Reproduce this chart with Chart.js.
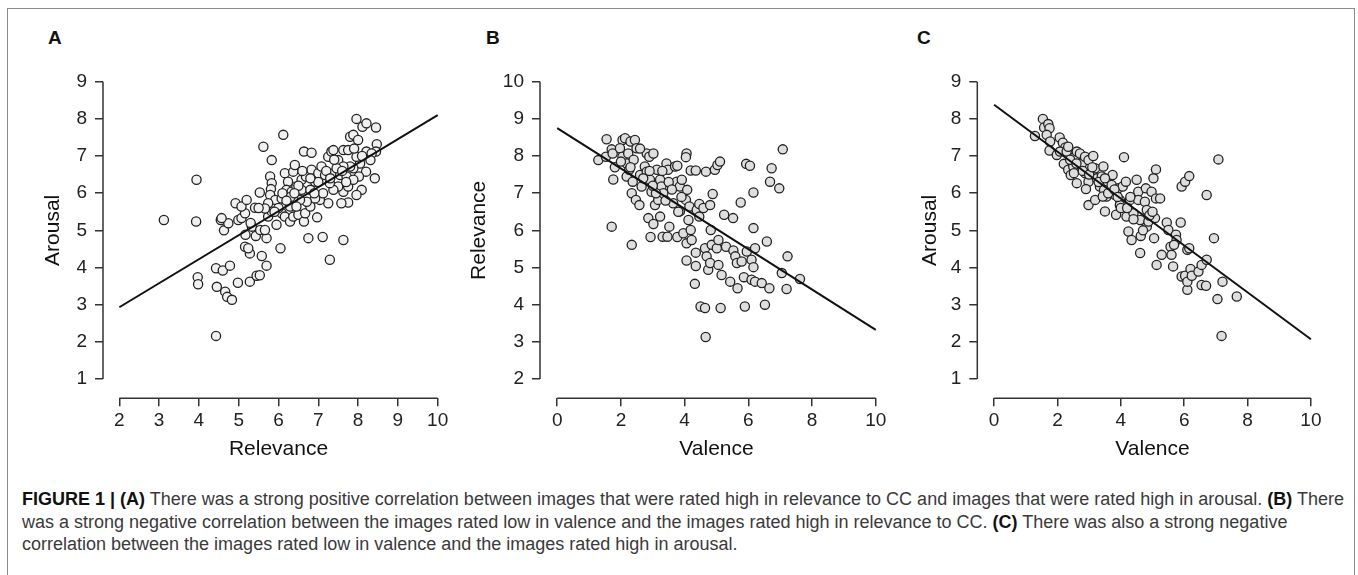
<!DOCTYPE html>
<html lang="en">
<head>
    <meta charset="UTF-8">
    <title>Figure 1</title>
    <script src="https://cdn.jsdelivr.net/npm/chart.js"></script>
    <style>
        body {
            margin: 0;
            background-color: #fff;
            font-family: 'Liberation Sans', Arial, sans-serif;
        }
        .frame {
            position: absolute;
            left: 7px;
            top: 8px;
            width: 1346px;
            height: 620px;
            border: 1.5px solid #8a8a8a;
        }
        canvas {
            position: absolute;
            top: 0;
        }
        .panel-letter {
            position: absolute;
            top: 28px;
            font-size: 19px;
            line-height: 19px;
            font-weight: bold;
            color: #111;
        }
        .caption {
            position: absolute;
            left: 22px;
            top: 488px;
            font-size: 18px;
            line-height: 22.5px;
            color: #3a3a3a;
            white-space: nowrap;
        }
        .caption b {
            color: #111;
        }
    </style>
</head>
<body>
    <div class="frame"></div>

    <div class="panel-letter" style="left:48px">A</div>
    <div class="panel-letter" style="left:486px">B</div>
    <div class="panel-letter" style="left:917px">C</div>

    <canvas id="chartA" width="460" height="480" style="left:0px"></canvas>
    <canvas id="chartB" width="440" height="480" style="left:460px"></canvas>
    <canvas id="chartC" width="458" height="480" style="left:900px"></canvas>

    <div class="caption">
        <b>FIGURE 1 | (A)</b> There was a strong positive correlation between images that were rated high in relevance to CC and images that were rated high in arousal. <b>(B)</b> There<br>
        was a strong negative correlation between the images rated low in valence and the images rated high in relevance to CC. <b>(C)</b> There was also a strong negative<br>
        correlation between the images rated low in valence and the images rated high in arousal.
    </div>

    <script>
        // Panel A: relevance vs arousal
        const aRelevance = [3.12, 3.94, 3.93, 3.97, 3.98, 4.43, 4.60, 4.78, 4.45, 4.66, 4.71, 4.83, 4.98, 5.28, 4.43,
            5.45, 5.53, 5.70, 5.16, 5.28, 5.58, 5.24, 6.05, 5.17, 5.43, 5.70, 5.33, 5.54, 5.66, 4.63,
            4.55, 4.74, 4.99, 5.07, 5.16, 4.92, 5.07, 5.20, 5.41, 5.53, 5.62, 5.83, 6.12, 5.74, 5.83,
            5.95, 6.08, 6.16, 6.29, 6.37, 6.50, 6.64, 6.75, 7.11, 7.63, 7.29, 6.97, 6.67, 6.80, 5.79,
            5.83, 5.81, 5.79, 5.92, 5.74, 5.66, 6.08, 6.16, 6.37, 6.41, 6.24, 6.20, 6.33, 6.45, 6.58,
            6.58, 6.69, 6.83, 6.64, 6.83, 6.92, 7.00, 7.08, 7.17, 7.25, 7.33, 7.38, 7.50, 7.63, 7.75,
            7.80, 7.88, 7.96, 8.11, 8.21, 8.45, 8.00, 8.47, 8.45, 8.42, 8.20, 8.05, 7.96, 7.88, 8.02,
            8.09, 7.96, 7.75, 7.58, 7.63, 7.75, 7.50, 7.38, 7.29, 7.25, 7.04, 7.12, 6.92, 6.71, 6.80,
            6.54, 6.37, 6.29, 6.45, 7.38, 7.55, 7.71, 7.80, 7.63, 7.46, 8.21, 8.34, 8.31, 7.88, 4.57,
            6.50, 6.90, 7.20, 7.00, 6.30, 6.00, 6.60, 6.10, 5.90, 6.40, 7.40, 7.70, 7.90, 8.10, 7.60,
            6.80, 7.30, 5.50, 5.30, 6.20];
        const aArousal = [5.28, 6.36, 5.24, 3.74, 3.55, 3.98, 3.92, 4.05, 3.48, 3.35, 3.21, 3.13, 3.59, 3.62, 2.16,
            3.78, 3.79, 4.05, 4.56, 4.38, 4.31, 4.52, 4.52, 4.88, 4.85, 4.79, 5.10, 5.01, 5.01, 5.00,
            5.28, 5.19, 5.28, 5.33, 5.46, 5.73, 5.64, 5.82, 5.61, 6.02, 7.25, 6.89, 7.57, 5.37, 5.51,
            5.15, 5.46, 5.37, 5.24, 5.37, 5.42, 5.24, 4.79, 4.82, 4.74, 4.21, 5.35, 5.46, 5.64, 6.45,
            6.27, 6.11, 5.95, 5.82, 5.73, 5.59, 5.86, 6.54, 6.58, 6.76, 6.31, 6.09, 6.04, 6.18, 6.09,
            6.36, 6.45, 6.63, 7.12, 7.09, 6.31, 6.54, 6.72, 6.49, 6.98, 7.12, 7.16, 6.89, 7.16, 7.16,
            7.52, 7.57, 8.00, 7.79, 7.88, 7.77, 7.43, 7.32, 7.12, 6.40, 6.58, 6.80, 6.98, 6.67, 6.45,
            6.09, 5.95, 5.75, 5.73, 6.04, 6.18, 6.18, 6.09, 6.27, 5.73, 5.82, 6.00, 5.86, 5.77, 6.09,
            5.82, 5.86, 5.64, 5.64, 6.54, 6.49, 6.45, 6.72, 6.72, 6.67, 7.12, 7.07, 6.89, 6.36, 5.33,
            6.20, 6.00, 6.60, 6.30, 5.90, 5.60, 6.60, 6.00, 5.50, 6.00, 6.90, 6.30, 7.20, 7.00, 6.60,
            6.40, 6.40, 5.60, 5.20, 5.80];
        const aLineX = [2, 10];
        const aLineY = [2.93, 8.10];
        const aXTicks = [2, 3, 4, 5, 6, 7, 8, 9, 10];
        const aYTicks = [1, 2, 3, 4, 5, 6, 7, 8, 9];

        // Panel B: valence vs relevance
        const bValence = [1.29, 1.55, 1.53, 1.71, 1.74, 1.81, 1.76, 1.71, 2.05, 2.13, 1.97, 2.05, 2.18, 2.23, 2.30,
            2.44, 2.49, 2.18, 2.26, 2.37, 2.34, 2.47, 2.58, 2.34, 2.60, 2.65, 2.75, 2.81, 2.89, 3.02,
            2.81, 2.91, 2.96, 3.07, 2.86, 3.02, 2.93, 3.13, 3.23, 3.27, 3.17, 3.23, 3.31, 3.46, 3.52,
            3.43, 3.48, 3.33, 3.54, 3.64, 3.70, 3.77, 3.75, 3.85, 3.91, 3.85, 3.77, 3.96, 4.06, 4.04,
            4.08, 4.04, 4.15, 4.12, 4.19, 4.06, 4.22, 4.19, 4.35, 4.38, 4.46, 4.59, 4.46, 4.35, 4.06,
            4.35, 4.32, 4.50, 4.64, 4.66, 4.67, 4.80, 4.82, 4.88, 4.64, 4.69, 4.74, 4.80, 4.85, 4.95,
            5.03, 5.11, 5.01, 5.06, 5.06, 5.16, 5.13, 5.24, 5.30, 5.43, 5.52, 5.53, 5.59, 5.64, 5.66,
            5.76, 5.79, 5.86, 5.89, 5.93, 6.05, 5.95, 6.10, 6.16, 6.10, 6.16, 6.16, 6.21, 6.21, 6.42,
            6.52, 6.58, 6.66, 6.68, 6.73, 6.97, 7.05, 7.08, 7.20, 7.23, 7.62,
            2.00, 2.40, 2.60, 2.30, 2.90, 3.30, 3.50, 3.60, 3.10, 3.40, 3.80, 3.90, 2.70, 3.00];
        const bRelevance = [7.89, 8.45, 7.98, 8.18, 8.07, 7.70, 7.37, 6.10, 8.43, 8.48, 8.21, 7.98, 7.80, 8.07, 8.39,
            8.43, 8.21, 7.45, 7.63, 7.31, 7.00, 6.82, 6.68, 5.61, 7.49, 7.18, 7.72, 8.07, 7.98, 8.07,
            7.58, 7.36, 7.04, 6.68, 6.33, 6.17, 5.82, 7.63, 7.36, 7.18, 6.82, 6.37, 5.83, 5.83, 6.10,
            7.80, 7.63, 7.00, 7.27, 6.73, 7.72, 7.74, 7.31, 7.18, 7.36, 6.51, 5.82, 5.92, 8.07, 7.97,
            7.09, 6.82, 6.64, 6.28, 6.01, 5.65, 5.74, 7.61, 7.61, 6.55, 6.71, 6.60, 6.37, 5.40, 5.19,
            5.04, 4.56, 3.95, 3.91, 3.13, 7.58, 6.68, 6.01, 6.98, 5.52, 5.30, 4.94, 5.12, 5.61, 7.63,
            7.76, 7.85, 5.52, 5.74, 5.07, 4.80, 3.91, 6.42, 5.56, 4.62, 6.33, 5.46, 5.30, 5.12, 4.44,
            6.75, 5.16, 4.74, 3.95, 7.79, 7.74, 5.43, 5.21, 5.01, 4.67, 7.02, 6.06, 5.52, 4.62, 4.58,
            4.00, 5.70, 4.44, 7.31, 7.67, 7.13, 4.85, 8.18, 4.42, 5.30, 4.69,
            7.85, 7.90, 8.20, 7.70, 7.60, 7.60, 7.30, 7.10, 7.00, 6.80, 6.50, 6.90, 7.40, 7.20];
        const bLineX = [0, 10];
        const bLineY = [8.75, 3.32];
        const bXTicks = [0, 2, 4, 6, 8, 10];
        const bYTicks = [2, 3, 4, 5, 6, 7, 8, 9, 10];

        // Panel C: valence vs arousal
        const cValence = [1.29, 1.54, 1.58, 1.71, 1.75, 1.66, 1.77, 1.75, 1.98, 2.07, 2.17, 2.25, 2.08, 2.29, 2.34,
            2.20, 2.34, 2.42, 2.50, 2.55, 2.61, 2.71, 2.52, 2.61, 2.77, 2.87, 2.98, 2.87, 2.98, 2.90,
            2.98, 3.13, 3.19, 3.24, 3.19, 3.34, 3.45, 3.40, 3.47, 3.50, 3.55, 3.43, 3.74, 3.71, 3.82,
            3.85, 3.92, 3.97, 3.97, 4.06, 4.10, 4.16, 4.18, 4.24, 4.34, 4.29, 4.40, 4.50, 4.55, 4.55,
            4.61, 4.63, 4.61, 4.76, 4.79, 4.82, 4.82, 4.87, 4.97, 5.03, 5.11, 5.05, 5.11, 4.97, 5.08,
            5.13, 5.24, 5.29, 5.45, 5.50, 5.57, 5.60, 5.65, 5.74, 5.76, 5.68, 5.89, 5.92, 6.03, 6.16,
            5.92, 6.03, 6.10, 6.10, 6.10, 6.16, 6.20, 6.24, 6.45, 6.55, 6.55, 6.69, 6.71, 6.71, 6.94,
            7.08, 7.05, 7.21, 7.18, 7.66,
            2.40, 2.80, 3.00, 3.30, 3.60, 3.80, 4.00, 4.20, 4.40, 4.70, 2.60, 3.10, 3.50, 3.90, 4.30,
            4.90, 5.00];
        const cArousal = [7.54, 8.00, 7.77, 7.86, 7.75, 7.57, 7.39, 7.15, 7.03, 7.50, 7.36, 7.23, 7.12, 7.12, 7.25,
            6.79, 6.63, 6.49, 6.72, 6.98, 7.12, 7.07, 6.54, 6.27, 6.80, 6.98, 6.89, 6.54, 6.31, 6.11,
            5.68, 7.00, 6.67, 6.40, 5.82, 6.18, 6.72, 6.45, 6.09, 5.51, 5.91, 5.91, 6.49, 6.22, 5.95,
            5.42, 6.13, 5.82, 5.68, 6.18, 6.97, 6.31, 5.37, 4.97, 4.74, 5.82, 5.46, 6.36, 6.04, 5.82,
            5.28, 4.85, 4.39, 5.77, 6.13, 5.55, 5.10, 5.24, 6.04, 6.40, 6.64, 4.79, 5.86, 5.46, 5.33,
            4.07, 5.86, 4.34, 5.21, 5.01, 4.56, 4.34, 4.03, 4.88, 4.74, 4.61, 5.21, 6.18, 6.31, 6.46,
            3.76, 3.78, 3.40, 3.62, 4.48, 4.52, 3.96, 3.78, 3.89, 3.53, 4.07, 3.51, 5.95, 4.21, 4.79,
            6.91, 3.15, 3.62, 2.16, 3.22,
            6.90, 6.60, 6.50, 6.30, 6.00, 6.10, 5.60, 5.60, 5.30, 5.00, 6.80, 6.70, 6.40, 5.90, 5.90,
            5.40, 5.50];
        const cLineX = [0, 10];
        const cLineY = [8.38, 2.07];
        const cXTicks = [0, 2, 4, 6, 8, 10];
        const cYTicks = [1, 2, 3, 4, 5, 6, 7, 8, 9];

        Chart.defaults.font.family = "'Liberation Sans', Arial, sans-serif";

        // R style axis: line only between first and last tick
        const axisLines = {
            id: 'axisLines',
            afterDraw(chart) {
                const { ctx, chartArea, scales } = chart;
                const x = scales.x, y = scales.y;
                ctx.save();
                ctx.strokeStyle = '#333';
                ctx.lineWidth = 1.5;
                ctx.beginPath();
                ctx.moveTo(x.getPixelForValue(x.ticks[0].value), chartArea.bottom);
                ctx.lineTo(x.getPixelForValue(x.ticks[x.ticks.length - 1].value), chartArea.bottom);
                ctx.moveTo(chartArea.left, y.getPixelForValue(y.ticks[0].value));
                ctx.lineTo(chartArea.left, y.getPixelForValue(y.ticks[y.ticks.length - 1].value));
                ctx.stroke();
                ctx.restore();
            }
        };

        function zip(xs, ys) {
            return xs.map((v, i) => ({ x: v, y: ys[i] }));
        }

        function makePanel(id, p) {
            const axisStyle = (ticks, min, max, title, titlePad) => ({
                type: 'linear',
                min: min,
                max: max,
                afterBuildTicks: s => { s.ticks = ticks.map(v => ({ value: v })); },
                grid: { drawOnChartArea: false, drawTicks: true, tickLength: 8, color: '#333', lineWidth: 1.5 },
                border: { display: false },
                title: { display: true, text: title, color: '#111', font: { size: 21 }, padding: titlePad }
            });

            const xAxis = axisStyle(p.xTicks, p.xMin, p.xMax, p.xTitle, { top: 0, bottom: 6.7 });
            xAxis.ticks = { color: '#222', font: { size: 19 }, padding: 3, maxRotation: 0, autoSkip: false };
            xAxis.afterFit = s => { s.height = 70; };

            const yAxis = axisStyle(p.yTicks, p.yMin, p.yMax, p.yTitle, { top: p.yTitlePad, bottom: 0 });
            yAxis.ticks = { color: '#222', font: { size: 19 }, padding: 8, autoSkip: false };
            yAxis.afterFit = s => { s.width = p.yAxisWidth; };

            new Chart(document.getElementById(id), {
                type: 'scatter',
                data: {
                    datasets: [
                        {
                            label: 'fit',
                            data: zip(p.lineX, p.lineY),
                            showLine: true,
                            borderColor: '#111',
                            borderWidth: 2,
                            pointRadius: 0,
                            order: 0
                        },
                        {
                            label: 'images',
                            data: zip(p.xs, p.ys),
                            pointRadius: 4.6,
                            pointBorderWidth: 1.3,
                            pointBackgroundColor: p.fill,
                            pointBorderColor: '#222',
                            order: 1
                        }
                    ]
                },
                options: {
                    responsive: false,
                    animation: false,
                    layout: { padding: { top: 62.4, right: p.padRight, bottom: 11.7, left: 0 } },
                    plugins: {
                        legend: { display: false },
                        tooltip: { enabled: false }
                    },
                    scales: { x: xAxis, y: yAxis }
                },
                plugins: [axisLines]
            });
        }

        makePanel('chartA', {
            xs: aRelevance, ys: aArousal, lineX: aLineX, lineY: aLineY,
            xTicks: aXTicks, yTicks: aYTicks, xMin: 1.59, xMax: 10.41, yMin: 0.48, yMax: 9.52,
            xTitle: 'Relevance', yTitle: 'Arousal', yTitlePad: 40.9, yAxisWidth: 103, padRight: 6,
            fill: '#f0f0f0'
        });
        makePanel('chartB', {
            xs: bValence, ys: bRelevance, lineX: bLineX, lineY: bLineY,
            xTicks: bXTicks, yTicks: bYTicks, xMin: -0.54, xMax: 10.54, yMin: 1.48, yMax: 10.52,
            xTitle: 'Valence', yTitle: 'Relevance', yTitlePad: 6.4, yAxisWidth: 80, padRight: 7,
            fill: '#dedede'
        });
        makePanel('chartC', {
            xs: cValence, ys: cArousal, lineX: cLineX, lineY: cLineY,
            xTicks: cXTicks, yTicks: cYTicks, xMin: -0.53, xMax: 10.53, yMin: 0.48, yMax: 9.52,
            xTitle: 'Valence', yTitle: 'Arousal', yTitlePad: 17.4, yAxisWidth: 77.3, padRight: 30.3,
            fill: '#dedede'
        });
    </script>
</body>
</html>
